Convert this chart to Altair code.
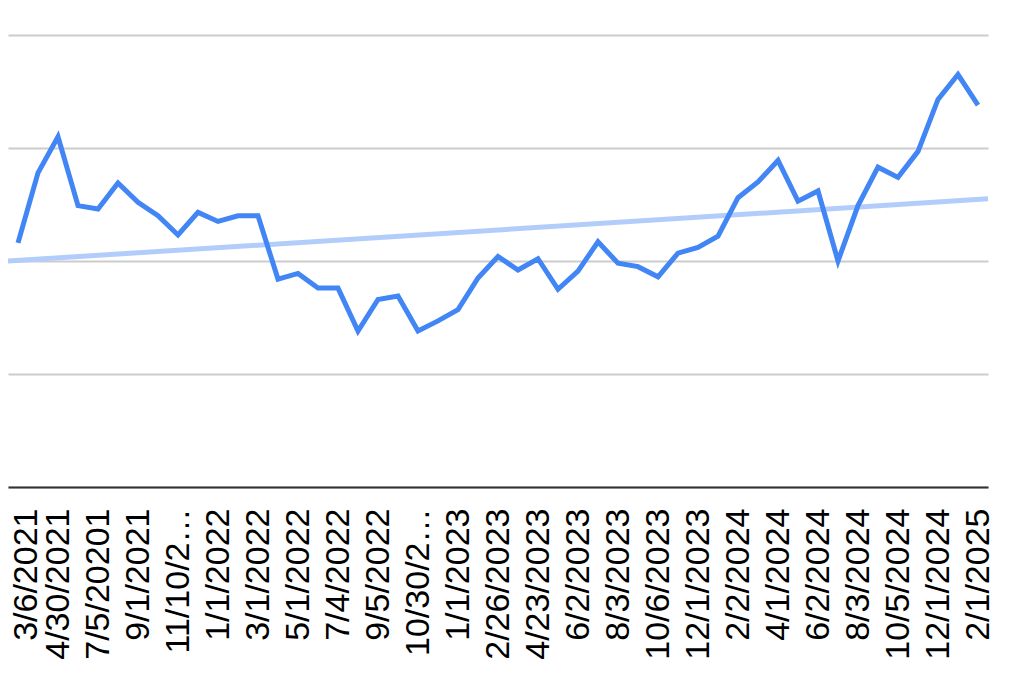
import altair as alt
import pandas as pd

# Tick labels shown on the x axis (every second observation is labelled)
tick_labels = [
    "3/6/2021", "4/30/2021", "7/5/20201", "9/1/2021", "11/10/2021",
    "1/1/2022", "3/1/2022", "5/1/2022", "7/4/2022", "9/5/2022",
    "10/30/2022", "1/1/2023", "2/26/2023", "4/23/2023", "6/2/2023",
    "8/3/2023", "10/6/2023", "12/1/2023", "2/2/2024", "4/1/2024",
    "6/2/2024", "8/3/2024", "10/5/2024", "12/1/2024", "2/1/2025",
]

# Series values (gridlines at 0,1,2,3,4)
series_values = [
    2.16, 2.78, 3.10, 2.49, 2.46, 2.69, 2.52, 2.40, 2.23, 2.43,
    2.35, 2.40, 2.40, 1.84, 1.89, 1.76, 1.76, 1.38, 1.66, 1.69,
    1.38, 1.47, 1.57, 1.85, 2.04, 1.92, 2.02, 1.75, 1.91, 2.17,
    1.98, 1.95, 1.86, 2.07, 2.12, 2.22, 2.56, 2.70, 2.89, 2.53,
    2.62, 2.00, 2.49, 2.83, 2.74, 2.97, 3.43, 3.65, 3.38,
]

# Linear trendline value at left and right edge of the plot
trend_ends = [2.00, 2.55]

W, H = 980, 452

df = pd.DataFrame({"idx": list(range(len(series_values))), "value": series_values})
df_t = pd.DataFrame({"t0": [trend_ends[0]], "t1": [trend_ends[1]]})

label_array = "[" + ",".join("'" + s + "'" for s in tick_labels) + "]"

yscale = alt.Scale(domain=[0, 4], nice=False, zero=True)

trend = alt.Chart(df_t).mark_rule(color="#b3cdfb", strokeWidth=5).encode(
    x=alt.value(0),
    x2=alt.value(W),
    y=alt.Y("t0:Q", scale=yscale, title=None),
    y2="t1:Q",
)

line = alt.Chart(df).mark_line(color="#4285f4", strokeWidth=5, strokeJoin="miter").encode(
    x=alt.X(
        "idx:O",
        scale=alt.Scale(type="point", padding=0.5),
        title=None,
        axis=alt.Axis(
            values=list(range(0, len(series_values), 2)),
            labelExpr=label_array + "[floor(datum.value / 2)]",
            labelAngle=270,
            labelFontSize=34,
            labelFont="Liberation Sans",
            labelColor="#000000",
            labelLimit=160,
            labelPadding=21,
            labelOffset={"expr": "datum.value == 0 ? 8 : 0"},
            ticks=False,
            grid=False,
            domainColor="#333333",
            domainWidth=2,
        ),
    ),
    y=alt.Y(
        "value:Q",
        scale=yscale,
        title=None,
        axis=alt.Axis(
            values=[0, 1, 2, 3, 4],
            labels=False,
            ticks=False,
            domain=False,
            grid=True,
            gridColor="#cccccc",
            gridWidth=2,
        ),
    ),
)

chart = alt.layer(trend, line).properties(
    width=W,
    height=H,
    autosize=alt.AutoSizeParams(type="none"),
    padding={"left": 0, "top": 27, "right": 28, "bottom": 200},
).configure_view(stroke=None)

chart.save("out.html", embed_options={"renderer": "svg", "actions": False})
